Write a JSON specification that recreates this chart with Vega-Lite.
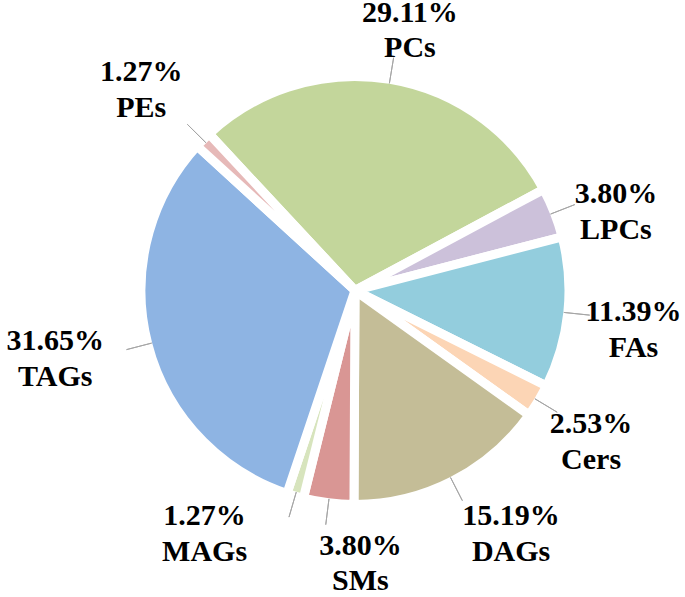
{
  "$schema": "https://vega.github.io/schema/vega-lite/v6.json",
  "width": 685,
  "height": 597,
  "autosize": {"type": "fit", "contains": "padding"},
  "padding": {"left": 19, "top": 0, "right": 0, "bottom": 9},
  "data": {"values": [
    {"order": 1, "name": "PCs", "pct": 29.11},
    {"order": 2, "name": "LPCs", "pct": 3.80},
    {"order": 3, "name": "FAs", "pct": 11.39},
    {"order": 4, "name": "Cers", "pct": 2.53},
    {"order": 5, "name": "DAGs", "pct": 15.19},
    {"order": 6, "name": "SMs", "pct": 3.80},
    {"order": 7, "name": "MAGs", "pct": 1.27},
    {"order": 8, "name": "TAGs", "pct": 31.65},
    {"order": 9, "name": "PEs", "pct": 1.27}
  ]},
  "transform": [
    {"window": [{"op": "sum", "field": "pct", "as": "end"}], "sort": [{"field": "order"}], "frame": [null, 0]},
    {"calculate": "datum.end - datum.pct", "as": "start"},
    {"calculate": "datum.end - datum.pct / 2", "as": "mid"},
    {"calculate": "format(datum.pct, '.2f') + '%'", "as": "pctLabel"}
  ],
  "encoding": {
    "theta": {"field": "mid", "type": "quantitative", "stack": null, "scale": {"domain": [0, 100.01], "range": [-0.75, 5.5332]}}
  },
  "layer": [
    {
      "mark": {"type": "arc", "radius": 214, "stroke": "white", "strokeWidth": 9},
      "encoding": {
        "theta": {"field": "start", "type": "quantitative", "stack": null, "scale": {"domain": [0, 100.01], "range": [-0.75, 5.5332]}},
        "theta2": {"field": "end"},
        "color": {"field": "name", "type": "nominal", "legend": null,
          "scale": {"domain": ["PCs", "LPCs", "FAs", "Cers", "DAGs", "SMs", "MAGs", "TAGs", "PEs"],
                    "range": ["#C3D69B", "#CCC1DA", "#93CDDD", "#FCD5B5", "#C4BD97", "#D99694", "#D7E4BD", "#8EB4E3", "#E6B9B8"]}}
      }
    },
    {
      "mark": {"type": "arc", "radius": 236, "radius2": 210, "stroke": "#a6a6a6", "strokeWidth": 1, "fillOpacity": 0},
      "encoding": {"theta2": {"field": "mid"}}
    },
    {"transform": [{"filter": "datum.name === 'PCs'"}], "mark": {"type": "text", "font": "Liberation Serif", "fontWeight": "bold", "fontSize": 30, "radius": 275, "dx": 9.9, "dy": -6}, "encoding": {"text": {"field": "pctLabel"}}},
    {"transform": [{"filter": "datum.name === 'PCs'"}], "mark": {"type": "text", "font": "Liberation Serif", "fontWeight": "bold", "fontSize": 30, "radius": 275, "dx": 9.9, "dy": 29}, "encoding": {"text": {"field": "name"}}},
    {"transform": [{"filter": "datum.name === 'LPCs'"}], "mark": {"type": "text", "font": "Liberation Serif", "fontWeight": "bold", "fontSize": 30, "radius": 275, "dx": 4.8, "dy": 3.5}, "encoding": {"text": {"field": "pctLabel"}}},
    {"transform": [{"filter": "datum.name === 'LPCs'"}], "mark": {"type": "text", "font": "Liberation Serif", "fontWeight": "bold", "fontSize": 30, "radius": 275, "dx": 4.8, "dy": 39.5}, "encoding": {"text": {"field": "name"}}},
    {"transform": [{"filter": "datum.name === 'FAs'"}], "mark": {"type": "text", "font": "Liberation Serif", "fontWeight": "bold", "fontSize": 30, "radius": 275, "dx": 5, "dy": -6.8}, "encoding": {"text": {"field": "pctLabel"}}},
    {"transform": [{"filter": "datum.name === 'FAs'"}], "mark": {"type": "text", "font": "Liberation Serif", "fontWeight": "bold", "fontSize": 30, "radius": 275, "dx": 5, "dy": 29.2}, "encoding": {"text": {"field": "name"}}},
    {"transform": [{"filter": "datum.name === 'Cers'"}], "mark": {"type": "text", "font": "Liberation Serif", "fontWeight": "bold", "fontSize": 30, "radius": 275, "dx": 0.5, "dy": -8.5}, "encoding": {"text": {"field": "pctLabel"}}},
    {"transform": [{"filter": "datum.name === 'Cers'"}], "mark": {"type": "text", "font": "Liberation Serif", "fontWeight": "bold", "fontSize": 30, "radius": 275, "dx": 0.5, "dy": 27.5}, "encoding": {"text": {"field": "name"}}},
    {"transform": [{"filter": "datum.name === 'DAGs'"}], "mark": {"type": "text", "font": "Liberation Serif", "fontWeight": "bold", "fontSize": 30, "radius": 275, "dx": 31, "dy": -18.9}, "encoding": {"text": {"field": "pctLabel"}}},
    {"transform": [{"filter": "datum.name === 'DAGs'"}], "mark": {"type": "text", "font": "Liberation Serif", "fontWeight": "bold", "fontSize": 30, "radius": 275, "dx": 31, "dy": 17.1}, "encoding": {"text": {"field": "name"}}},
    {"transform": [{"filter": "datum.name === 'SMs'"}], "mark": {"type": "text", "font": "Liberation Serif", "fontWeight": "bold", "fontSize": 30, "radius": 275, "dx": 39.5, "dy": -17.5}, "encoding": {"text": {"field": "pctLabel"}}},
    {"transform": [{"filter": "datum.name === 'SMs'"}], "mark": {"type": "text", "font": "Liberation Serif", "fontWeight": "bold", "fontSize": 30, "radius": 275, "dx": 39.5, "dy": 17.5}, "encoding": {"text": {"field": "name"}}},
    {"transform": [{"filter": "datum.name === 'MAGs'"}], "mark": {"type": "text", "font": "Liberation Serif", "fontWeight": "bold", "fontSize": 30, "radius": 275, "dx": -73.5, "dy": -39}, "encoding": {"text": {"field": "pctLabel"}}},
    {"transform": [{"filter": "datum.name === 'MAGs'"}], "mark": {"type": "text", "font": "Liberation Serif", "fontWeight": "bold", "fontSize": 30, "radius": 275, "dx": -73.5, "dy": -3}, "encoding": {"text": {"field": "name"}}},
    {"transform": [{"filter": "datum.name === 'TAGs'"}], "mark": {"type": "text", "font": "Liberation Serif", "fontWeight": "bold", "fontSize": 30, "radius": 275, "dx": -33.5, "dy": -18.5}, "encoding": {"text": {"field": "pctLabel"}}},
    {"transform": [{"filter": "datum.name === 'TAGs'"}], "mark": {"type": "text", "font": "Liberation Serif", "fontWeight": "bold", "fontSize": 30, "radius": 275, "dx": -33.5, "dy": 17.5}, "encoding": {"text": {"field": "name"}}},
    {"transform": [{"filter": "datum.name === 'PEs'"}], "mark": {"type": "text", "font": "Liberation Serif", "fontWeight": "bold", "fontSize": 30, "radius": 275, "dx": -18.5, "dy": -24.5}, "encoding": {"text": {"field": "pctLabel"}}},
    {"transform": [{"filter": "datum.name === 'PEs'"}], "mark": {"type": "text", "font": "Liberation Serif", "fontWeight": "bold", "fontSize": 30, "radius": 275, "dx": -18.5, "dy": 11.5}, "encoding": {"text": {"field": "name"}}}
  ]
}
